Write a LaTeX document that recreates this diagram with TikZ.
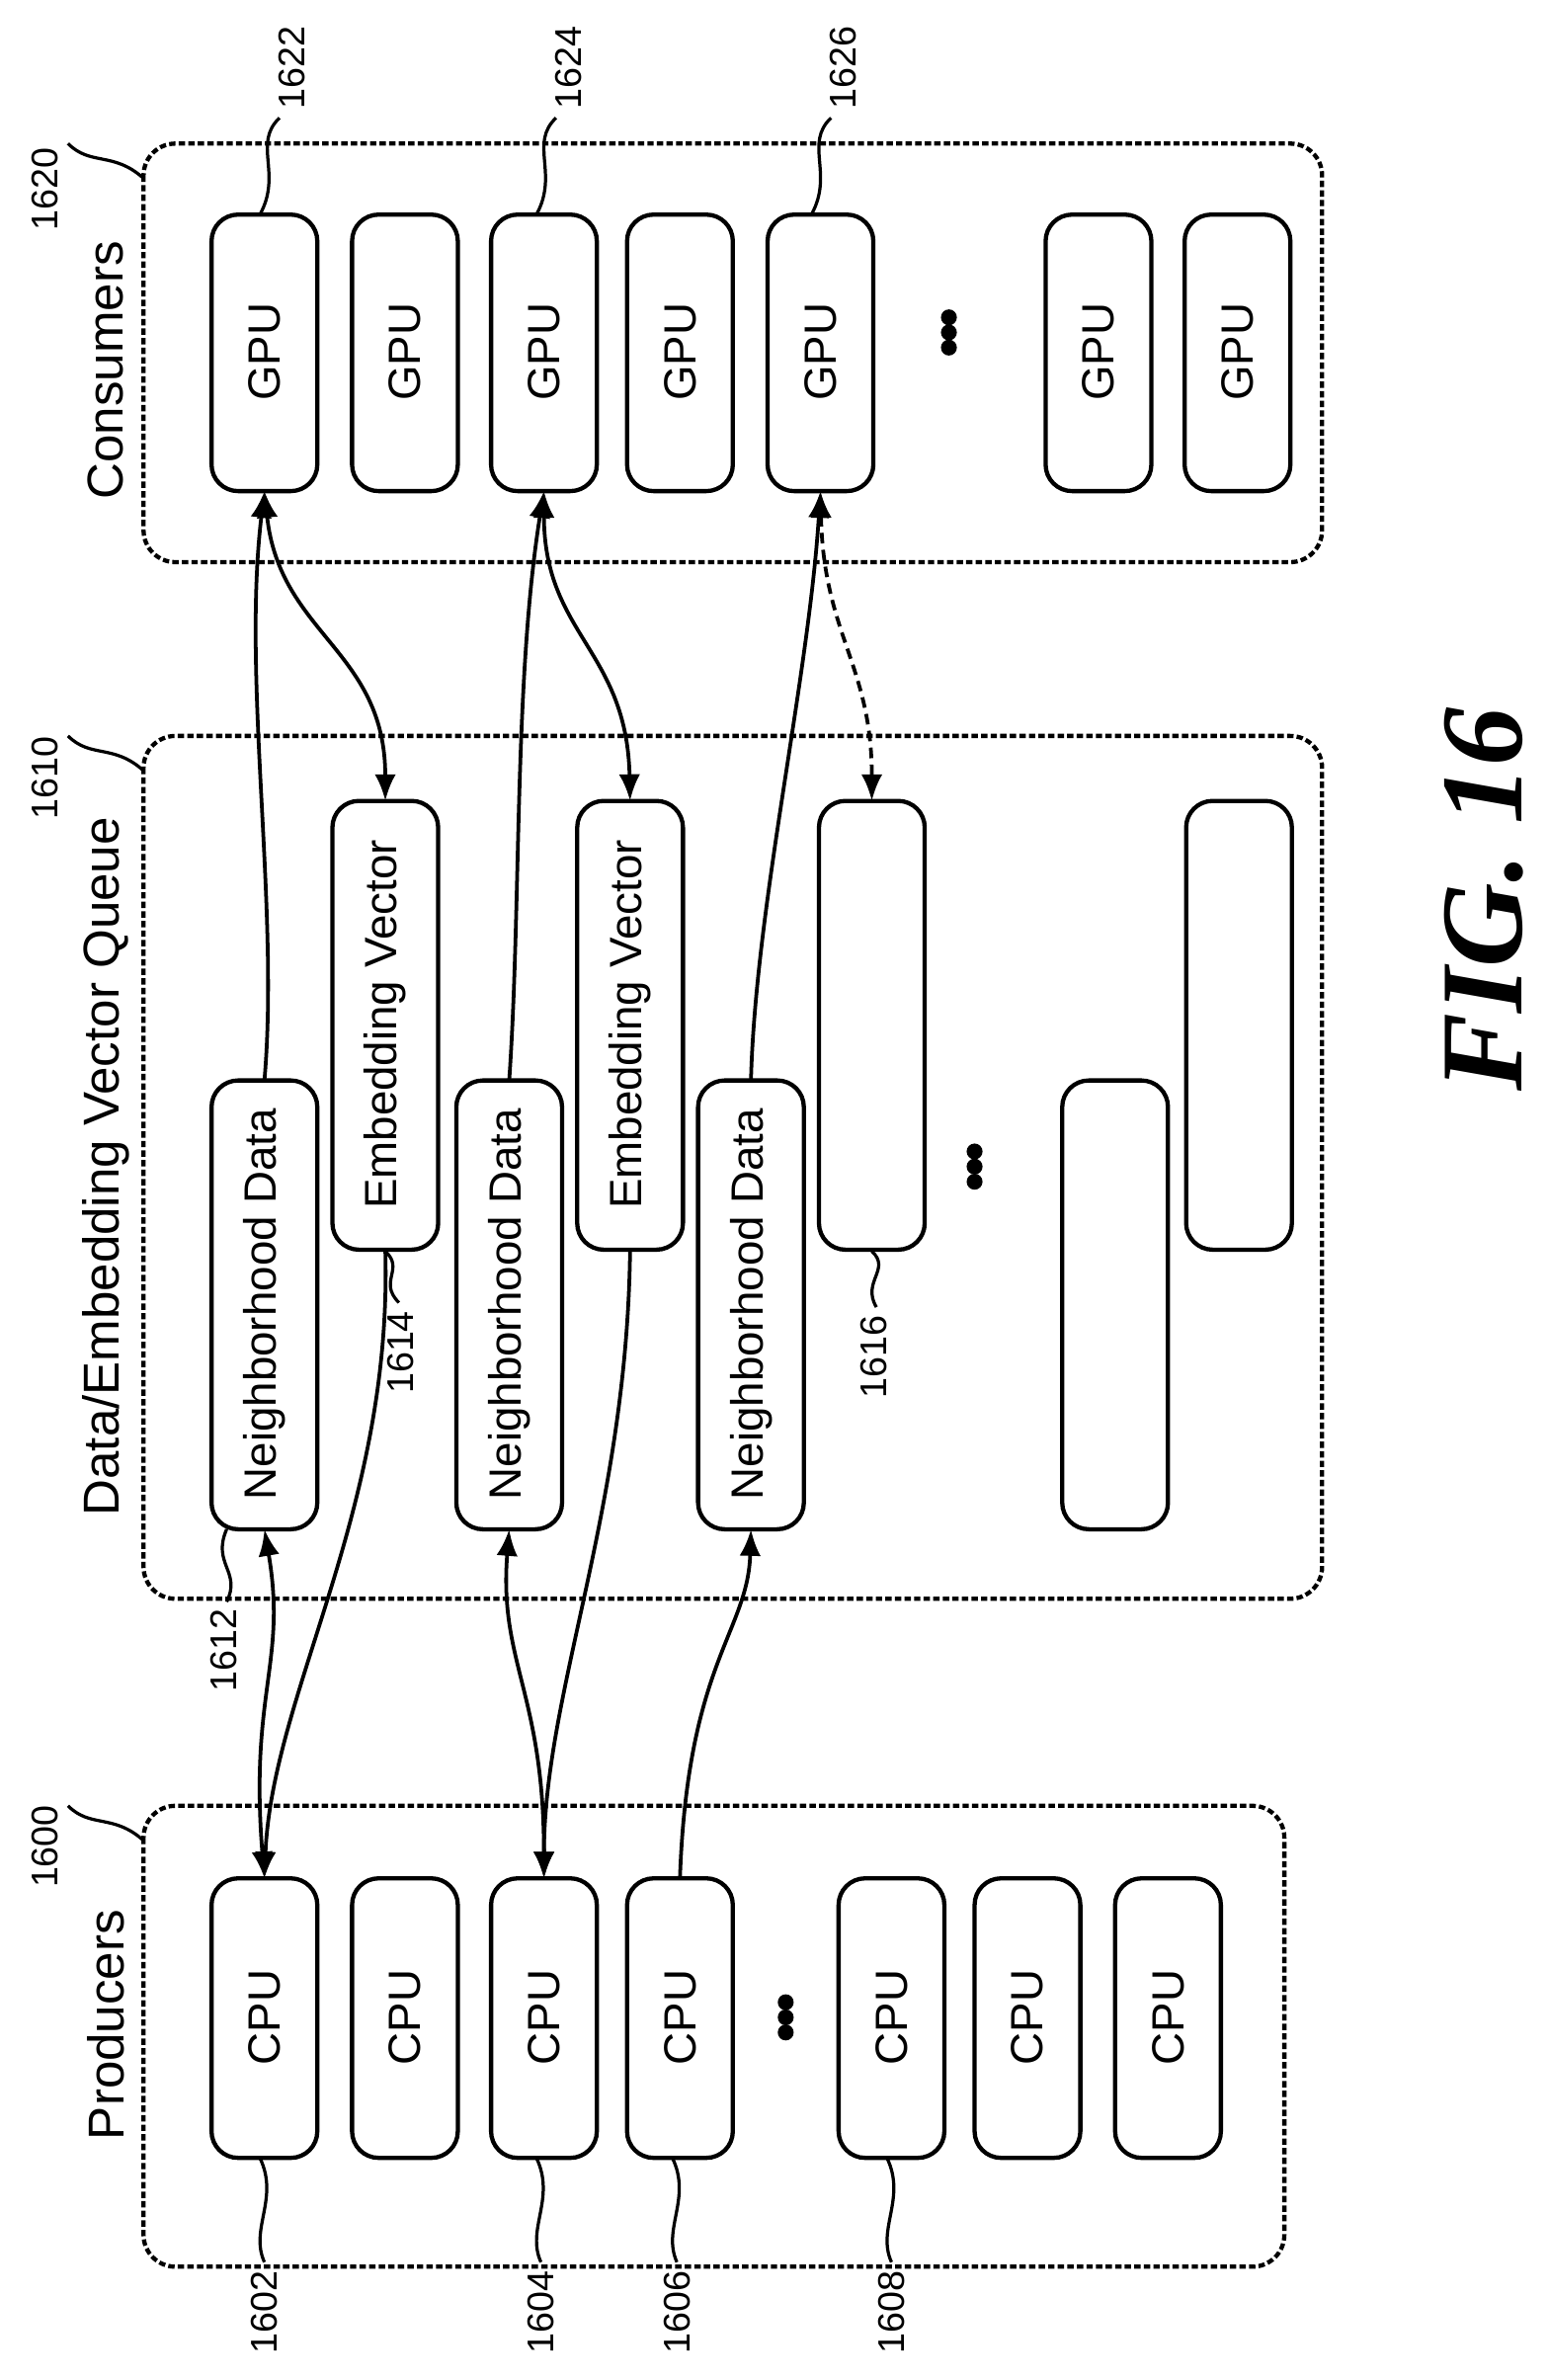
\documentclass[tikz,border=0pt]{standalone}
\usepackage{fontspec}
\setmainfont{Liberation Sans}
\newfontfamily\serifx{Liberation Serif}
\usetikzlibrary{arrows.meta}
\begin{document}
\begin{tikzpicture}[x=0.01cm,y=-0.01cm,
 grp/.style={draw,line width=0.8pt,rounded corners=6pt,dash pattern=on 1.2pt off 0.6pt},
 box/.style={draw,line width=0.8pt,rounded corners=5pt},
 txt/.style={rotate=90,font=\fontsize{8.5}{10}\selectfont},
 ttl/.style={rotate=90,font=\fontsize{9.5}{11}\selectfont},
 lbl/.style={rotate=90,font=\fontsize{7}{8}\selectfont},
 dots/.style={circle,fill,inner sep=0pt,minimum size=3pt},
 arr/.style={line width=0.7pt,-{Latex[length=5pt,width=4pt]}},
 darr/.style={line width=0.7pt,{Latex[length=5pt,width=4pt]}-{Latex[length=5pt,width=4pt]}},
 lead/.style={line width=0.6pt}]
\useasboundingbox (0,0) rectangle (1024,1575);
% groups
\draw[grp] (95,95) rectangle (875,372);
\draw[grp] (95,487) rectangle (875,1058);
\draw[grp] (95,1195) rectangle (850,1500);
\node[ttl] (tc) at (70,245) {Consumers};
\node[ttl] (tq) at (70,772) {Data/Embedding Vector Queue};
\node[ttl] (tp) at (70,1340) {Producers};
% GPUs
\foreach \n/\x in {g1/140,g2/233,g3/325,g4/415,g5/508,g6/692,g7/784}{
 \draw[box] (\x,142) rectangle ++(70,183);
 \node[txt] (\n) at (\x+35,233) {GPU};
 \coordinate (\n t) at (\x+35,142); \coordinate (\n b) at (\x+35,325);}
\foreach \y in {210,220,230}{\node[dots] at (628,\y) {};}
% CPUs
\foreach \n/\x in {c1/140,c2/233,c3/325,c4/415,c5/555,c6/645,c7/738}{
 \draw[box] (\x,1243) rectangle ++(70,185);
 \node[txt] (\n) at (\x+35,1335) {CPU};
 \coordinate (\n t) at (\x+35,1243); \coordinate (\n b) at (\x+35,1428);}
\foreach \y in {1325,1335,1345}{\node[dots] at (520,\y) {};}
% queue
\foreach \n/\x/\y/\t in {n1/140/715/Neighborhood Data,e1/220/530/Embedding Vector,n2/302/715/Neighborhood Data,e2/382/530/Embedding Vector,n3/462/715/Neighborhood Data,q1/542/530/,q2/703/715/,q3/785/530/}{
 \draw[box] (\x,\y) rectangle ++(70,297);
 \node[txt] (\n) at (\x+35,\y+148) {\t};
 \coordinate (\n t) at (\x+35,\y); \coordinate (\n b) at (\x+35,\y+297);}
\foreach \y in {762,772,782}{\node[dots] at (645,\y) {};}
% connectors
\draw[darr] (c1t) .. controls (165,1120) and (190,1100) .. (n1b);
\draw[arr] (n1t) .. controls (185,600) and (160,450) .. (g1b);
\draw[darr] (g1b) .. controls (185,420) and (255,430) .. (e1t);
\draw[arr] (e1b) .. controls (260,1000) and (180,1120) .. (c1t);
\draw[darr] (c3t) .. controls (360,1120) and (330,1100) .. (n2b);
\draw[arr] (n2t) .. controls (345,600) and (340,450) .. (g3b);
\draw[darr] (g3b) .. controls (360,420) and (415,430) .. (e2t);
\draw[arr] (e2b) .. controls (415,1000) and (360,1120) .. (c3t);
\draw[arr] (c4t) .. controls (455,1100) and (495,1080) .. (n3b);
\draw[arr] (n3t) .. controls (500,600) and (535,450) .. (g5b);
\draw[darr,dash pattern=on 2pt off 1.2pt] (g5b) .. controls (545,420) and (577,440) .. (q1t);
% reference labels
\node[lbl] (l1620) at (30,125) {1620};
\draw[lead] (45,95) .. controls (60,110) and (75,100) .. (95,118);
\node[lbl] (l1610) at (30,515) {1610};
\draw[lead] (45,487) .. controls (60,502) and (75,492) .. (95,510);
\node[lbl] (l1600) at (30,1222) {1600};
\draw[lead] (45,1195) .. controls (60,1210) and (75,1200) .. (95,1218);
\foreach \x/\t in {175/1622,358/1624,540/1626}{
 \node[lbl] at (\x+18,45) {\t};
 \draw[lead] (\x+10,78) .. controls (\x-8,95) and (\x+12,115) .. (\x-3,142);}
\foreach \x/\t in {175/1602,358/1604,448/1606,590/1608}{
 \node[lbl] at (\x,1530) {\t};
 \draw[lead] (\x-3,1428) .. controls (\x+10,1455) and (\x-10,1475) .. (\x,1497);}
\node[lbl] (l1612) at (148,1092) {1612};
\draw[lead] (150,1012) .. controls (140,1035) and (160,1040) .. (150,1060);
\node[lbl] (l1614) at (265,895) {1614};
\draw[lead] (255,828) .. controls (268,840) and (250,848) .. (264,862);
\node[lbl] (l1616) at (578,898) {1616};
\draw[lead] (577,828) .. controls (590,840) and (570,848) .. (580,865);
\node[rotate=90,font=\serifx\bfseries\itshape\fontsize{22}{26}\selectfont] (fig) at (982,595) {FIG. 16};
\end{tikzpicture}
\end{document}
